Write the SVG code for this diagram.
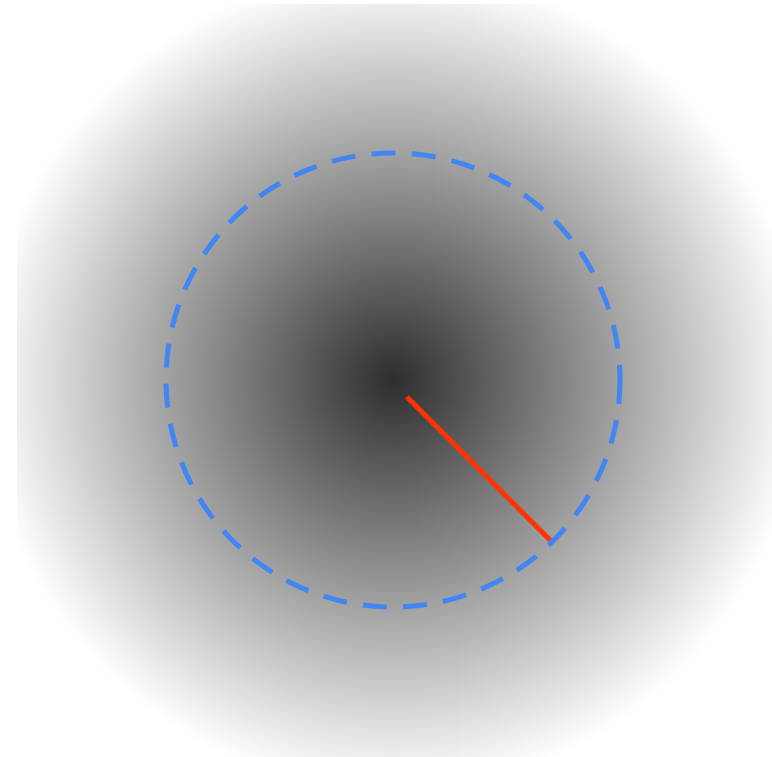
<svg xmlns="http://www.w3.org/2000/svg" width="772" height="757" viewBox="0 0 772 757">
<defs>
<radialGradient id="g" cx="393" cy="380" r="410" gradientUnits="userSpaceOnUse">
<stop offset="0" stop-color="#2e2e2e"/>
<stop offset="1" stop-color="#ffffff"/>
</radialGradient>
</defs>
<rect width="772" height="757" fill="#ffffff"/>
<g id="background"><rect x="17" y="4" width="755" height="753" fill="url(#g)"/></g>
<g id="connectors">
<line x1="407" y1="397" x2="552" y2="542" stroke="#ff3300" stroke-width="5"/>
</g>
<g id="circle"><circle cx="393" cy="380" r="227" fill="none" stroke="#4285f4" stroke-width="5" stroke-dasharray="24 16.3"/></g>
</svg>
